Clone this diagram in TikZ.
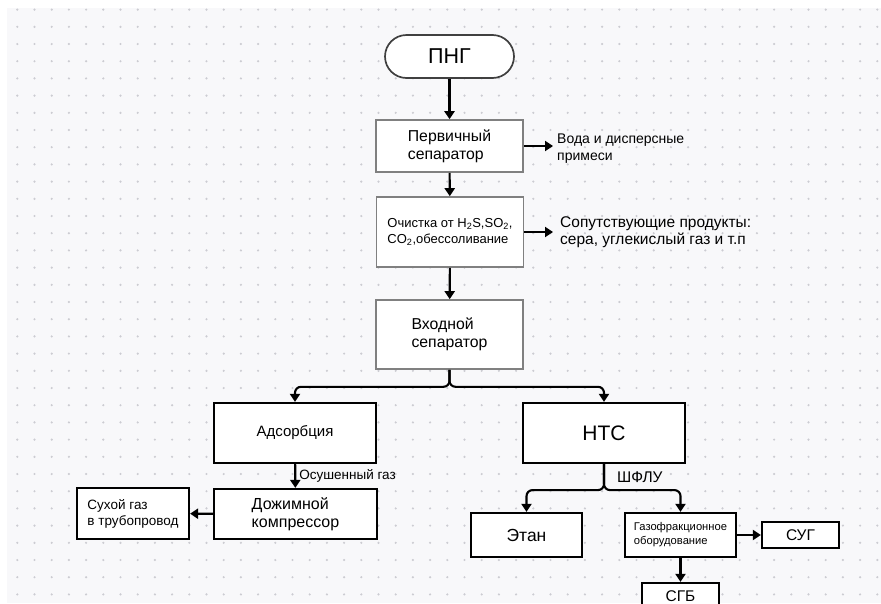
\documentclass[tikz,border=0pt]{standalone}
\usepackage{fontspec}
\setmainfont{Liberation Sans}
\usetikzlibrary{
    positioning,           % Relative positioning
    arrows.meta,           % Modern arrow tips
    calc                   % Coordinate calculations
}

\definecolor{canvas}{RGB}{248,248,250}
\definecolor{griddot}{RGB}{204,204,210}
\definecolor{boxgray}{RGB}{128,128,128}

\begin{document}
\begin{tikzpicture}[x=1pt,y=-1pt,
    graybox/.style={draw=boxgray,line width=1.6pt,fill=white,align=left,inner sep=0pt,
        minimum width=147pt,font=\fontsize{15.8}{18}\selectfont},
    blackbox/.style={draw=black,line width=2.2pt,fill=white,align=left,inner sep=0pt},
    conn/.style={line width=2.1pt,-{Triangle[width=10pt,length=8pt]}},
    note/.style={align=left,anchor=west,inner sep=0pt}
]
    \useasboundingbox (0,0) rectangle (881,603);
    \clip (0,0) rectangle (881,603);
    % background with dot grid
    \fill[white] (0,0) rectangle (881,603);
    \fill[canvas] (7,8) rectangle (881,603);
    \foreach \i in {0,...,50}
        \foreach \j in {0,...,34}
            \fill[griddot] (17.3+17.2*\i,9.6+17.2*\j) circle (1.2pt);

    % main line
    \node[draw=black!75,line width=1.7pt,fill=white,rounded corners=21.5pt,
        minimum width=129pt,minimum height=43pt,font=\fontsize{21.5}{24}\selectfont]
        (png) at (449.5,56.5) {ПНГ};
    \node[graybox,minimum height=52pt] (pser) at (449.5,146) {Первичный\\сепаратор};
    \node[graybox,minimum height=70pt,font=\fontsize{13}{16.5}\selectfont]
        (clean) at (450,232) {Очистка от H\textsubscript{2}S,SO\textsubscript{2},\\CO\textsubscript{2},обессоливание};
    \node[graybox,minimum height=69pt] (vsep) at (449.5,334.5) {Входной\\сепаратор};

    % side products
    \node[note,font=\fontsize{14}{17}\selectfont,inner xsep=4pt] (voda) at (553,149)
        {Вода и дисперсные\\примеси};
    \node[note,font=\fontsize{15.5}{17}\selectfont,inner xsep=7pt] (sop) at (553,232)
        {Сопутствующие продукты:\\сера, углекислый газ и т.п};

    % left branch
    \node[blackbox,minimum width=162pt,minimum height=60pt,font=\fontsize{15}{18}\selectfont]
        (ads) at (295,433) {Адсорбция};
    \node[blackbox,minimum width=163pt,minimum height=50pt,font=\fontsize{16}{18.5}\selectfont]
        (dozh) at (295.5,514) {Дожимной\\компрессор};
    \node[blackbox,minimum width=112pt,minimum height=51pt,font=\fontsize{13.5}{16}\selectfont]
        (dry) at (133,513.5) {Сухой газ\\в трубопровод};

    % right branch
    \node[blackbox,minimum width=162pt,minimum height=60pt,font=\fontsize{21}{24}\selectfont]
        (nts) at (604,433) {НТС};
    \node[blackbox,minimum width=111pt,minimum height=44pt,font=\fontsize{17.5}{20}\selectfont]
        (etan) at (526.5,535) {Этан};
    \node[blackbox,minimum width=111pt,minimum height=44pt,font=\fontsize{11.2}{14}\selectfont]
        (gfo) at (680.5,535) {Газофракционное\\оборудование};
    \node[blackbox,minimum width=77pt,minimum height=26pt,font=\fontsize{15.5}{17}\selectfont]
        (sug) at (800.5,535) {СУГ};
    \node[blackbox,minimum width=77pt,minimum height=26pt,font=\fontsize{15.5}{17}\selectfont]
        (sgb) at (680.5,596) {СГБ};

    % connectors
    \draw[conn] (png) -- (pser);
    \draw[conn] (pser) -- (clean);
    \draw[conn] (clean) -- (vsep);
    \draw[conn] (pser.east) -- (pser.east -| voda.west);
    \draw[conn] (clean.east) -- (sop.west);
    \draw[conn,rounded corners=6pt] (vsep.south) -- ++(0,17) -| (ads.north);
    \draw[conn,rounded corners=6pt] (vsep.south) -- ++(0,17) -| (nts.north);
    \draw[conn] (ads) -- node[right,inner xsep=3pt,font=\fontsize{13.5}{15}\selectfont]
        {Осушенный газ} (dozh);
    \draw[conn] (dozh) -- (dry);
    \draw[conn,rounded corners=6pt] (nts.south)
        -- node[right,inner xsep=12pt,font=\fontsize{15.5}{17}\selectfont] {ШФЛУ} ++(0,26)
        -| (etan.north);
    \draw[conn,rounded corners=6pt] (nts.south) -- ++(0,26) -| (gfo.north);
    \draw[conn] (gfo) -- (sug);
    \draw[conn] (gfo) -- (sgb);
\end{tikzpicture}
\end{document}
